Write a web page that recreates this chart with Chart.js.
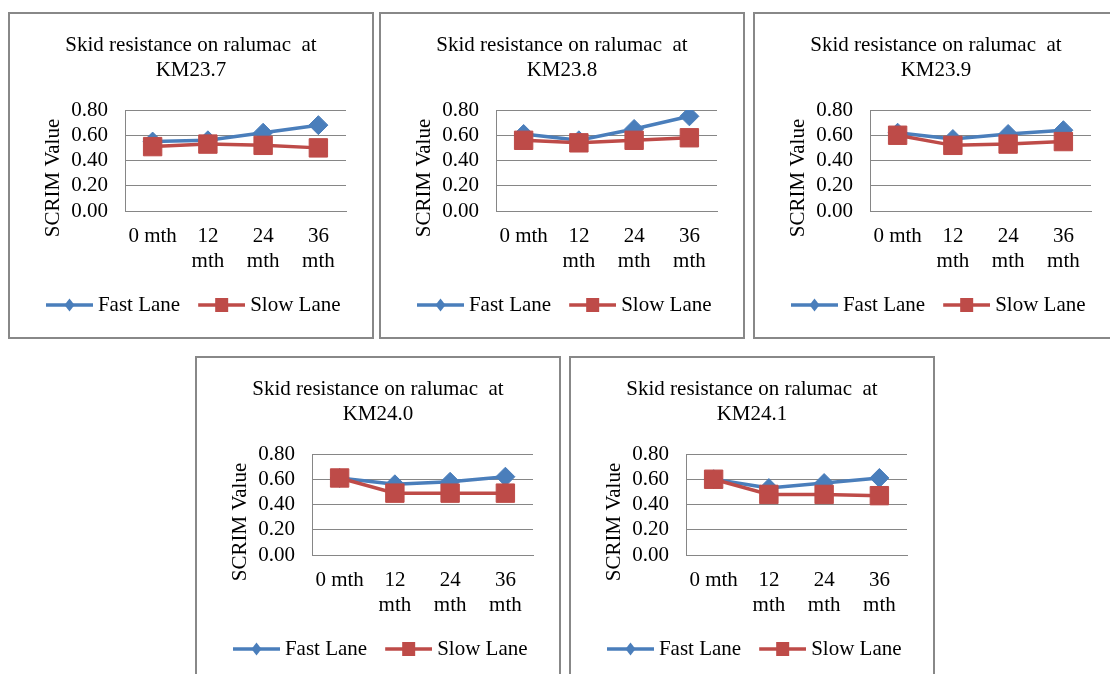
<!DOCTYPE html>
<html>
<head>
<meta charset="utf-8">
<script src="https://cdn.jsdelivr.net/npm/chart.js@4.4.1/dist/chart.umd.min.js"></script>
<style>
  html, body { margin: 0; padding: 0; background: #fff; overflow: hidden; }
  body { width: 1110px; height: 674px; position: relative; }
  .panel { position: absolute; width: 366px; height: 327px; border: 2px solid #888; box-sizing: border-box; background: #fff; }
  .panel canvas { display: block; }
</style>
</head>
<body>
<script>
// Datos
const categories = ['0 mth', '12 mth', '24 mth', '36 mth'];
const tickLabels = ['0 mth', ['12', 'mth'], ['24', 'mth'], ['36', 'mth']];
const yTicks = [0, 0.2, 0.4, 0.6, 0.8];
const seriesNames = ['Fast Lane', 'Slow Lane'];
const locations = ['KM23.7', 'KM23.8', 'KM23.9', 'KM24.0', 'KM24.1'];

const fastKM237 = [0.55, 0.56, 0.62, 0.68];
const slowKM237 = [0.51, 0.53, 0.52, 0.50];
const fastKM238 = [0.61, 0.56, 0.65, 0.75];
const slowKM238 = [0.56, 0.54, 0.56, 0.58];
const fastKM239 = [0.62, 0.57, 0.61, 0.64];
const slowKM239 = [0.60, 0.52, 0.53, 0.55];
const fastKM240 = [0.61, 0.56, 0.58, 0.62];
const slowKM240 = [0.61, 0.49, 0.49, 0.49];
const fastKM241 = [0.60, 0.53, 0.57, 0.61];
const slowKM241 = [0.60, 0.48, 0.48, 0.47];

const fastSeries = [fastKM237, fastKM238, fastKM239, fastKM240, fastKM241];
const slowSeries = [slowKM237, slowKM238, slowKM239, slowKM240, slowKM241];

// Posición de cada recuadro (px)
const panelPos = [[8, 12], [379, 12], [753, 12], [195, 356], [569, 356]];

const BLUE = '#4A7EBB';
const RED = '#BE4B48';
const GRID = '#868686';
const FONT = { family: '"Liberation Serif", "Times New Roman", serif', size: 21, lineHeight: 25 / 21 };

// Icono de leyenda: línea con marcador
function makeIcon(color, shape) {
  const c = document.createElement('canvas');
  c.width = 57; c.height = 18;
  const g = c.getContext('2d');
  g.strokeStyle = color;
  g.lineWidth = 3.5;
  g.beginPath(); g.moveTo(10, 9); g.lineTo(57, 9); g.stroke();
  g.fillStyle = color;
  if (shape === 'diamond') {
    g.beginPath();
    g.moveTo(33.5, 2.5); g.lineTo(38.5, 9); g.lineTo(33.5, 15.5); g.lineTo(28.5, 9);
    g.closePath(); g.fill();
  } else {
    g.fillRect(27, 2, 13, 14);
  }
  return c;
}
const iconFast = makeIcon(BLUE, 'diamond');
const iconSlow = makeIcon(RED, 'square');

// Título del eje Y
const yTitlePlugin = {
  id: 'yTitle',
  afterDraw(chart) {
    const { ctx, chartArea } = chart;
    ctx.save();
    ctx.translate(chartArea.left - 71.5, chartArea.bottom - 33);
    ctx.rotate(-Math.PI / 2);
    ctx.font = '21px "Liberation Serif", "Times New Roman", serif';
    ctx.fillStyle = '#000';
    ctx.textAlign = 'center';
    ctx.textBaseline = 'middle';
    ctx.fillText('SCRIM Value', 0, 0);
    ctx.restore();
  }
};

locations.forEach((loc, i) => {
  const div = document.createElement('div');
  div.className = 'panel';
  div.style.left = panelPos[i][0] + 'px';
  div.style.top = panelPos[i][1] + 'px';
  const canvas = document.createElement('canvas');
  canvas.width = 362;
  canvas.height = 323;
  div.appendChild(canvas);
  document.body.appendChild(div);

  new Chart(canvas, {
    type: 'line',
    data: {
      labels: tickLabels,
      datasets: [
        {
          label: seriesNames[0],
          data: fastSeries[i],
          borderColor: BLUE,
          backgroundColor: BLUE,
          borderWidth: 3.5,
          pointStyle: 'rectRot',
          pointRadius: 9.5,
          pointBorderWidth: 1,
          tension: 0,
          order: 1
        },
        {
          label: seriesNames[1],
          data: slowSeries[i],
          borderColor: RED,
          backgroundColor: RED,
          borderWidth: 3.5,
          pointStyle: 'rect',
          pointRadius: 13,
          pointBorderWidth: 1,
          tension: 0,
          order: 0
        }
      ]
    },
    options: {
      responsive: false,
      animation: false,
      layout: { padding: { left: 0, right: 0, top: 0, bottom: 11.5 } },
      plugins: {
        title: {
          display: true,
          text: ['Skid resistance on ralumac  at', loc],
          font: { ...FONT, weight: 'normal' },
          color: '#000',
          padding: { top: 18.5, bottom: 27.5 }
        },
        legend: {
          position: 'bottom',
          labels: {
            usePointStyle: true,
            pointStyleWidth: 46,
            padding: 13.5,
            font: FONT,
            color: '#000',
            generateLabels: () => [
              { text: seriesNames[0], pointStyle: iconFast, fillStyle: BLUE, strokeStyle: BLUE, lineWidth: 0, hidden: false, datasetIndex: 0, fontColor: '#000' },
              { text: seriesNames[1], pointStyle: iconSlow, fillStyle: RED, strokeStyle: RED, lineWidth: 0, hidden: false, datasetIndex: 1, fontColor: '#000' }
            ]
          }
        },
        tooltip: { enabled: false }
      },
      scales: {
        x: {
          offset: true,
          grid: { display: false, drawTicks: false },
          border: { color: GRID, width: 1 },
          ticks: { padding: 13, font: FONT, color: '#000', maxRotation: 0, autoSkip: false },
          afterFit: s => { s.height = 70; }
        },
        y: {
          min: yTicks[0],
          max: yTicks[yTicks.length - 1],
          afterBuildTicks: s => { s.ticks = yTicks.map(v => ({ value: v })); },
          ticks: { padding: 17, font: FONT, color: '#000', autoSkip: false, callback: v => v.toFixed(2) },
          grid: { color: GRID, lineWidth: 1, drawTicks: false },
          border: { color: GRID, width: 1 },
          afterFit: s => { s.width = 115; }
        },
        yR: {
          position: 'right',
          display: true,
          ticks: { display: false },
          grid: { display: false, drawTicks: false },
          border: { display: false },
          afterFit: s => { s.width = 26; }
        }
      }
    },
    plugins: [yTitlePlugin]
  });
});
</script>
</body>
</html>
